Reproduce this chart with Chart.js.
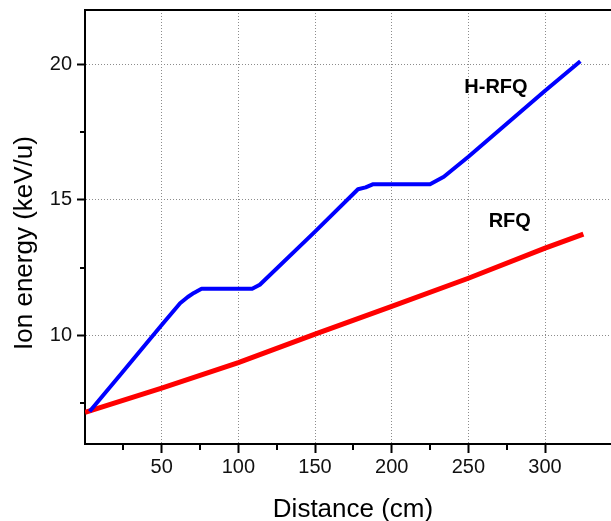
<!DOCTYPE html>
<html>
<head>
<meta charset="utf-8">
<title>Ion energy vs distance</title>
<script src="https://cdn.jsdelivr.net/npm/chart.js@4/dist/chart.umd.min.js"></script>
<style>
  html, body { margin: 0; padding: 0; background: #fff; }
  #wrap { width: 611px; height: 521px; position: relative; }
</style>
</head>
<body>
<div id="wrap"><canvas id="energy"></canvas></div>
<script>
// H-RFQ: accelerating sections with two drift plateaus
const hrfqDistance = [3, 24, 50, 62, 67, 71, 76, 109, 114, 150, 178, 183, 188, 225, 234, 250, 300, 323];
const hrfqEnergy = [7.2, 8.62, 10.39, 11.19, 11.42, 11.57, 11.72, 11.72, 11.87, 13.83, 15.39, 15.46, 15.58, 15.58, 15.85, 16.59, 19.02, 20.11];

// conventional RFQ
const rfqDistance = [0, 50, 100, 150, 200, 250, 300, 325];
const rfqEnergy = [7.17, 8.06, 9.0, 10.05, 11.07, 12.11, 13.22, 13.74];

const xMajor = [50, 100, 150, 200, 250, 300];
const yMajor = [10, 15, 20];

const seriesLabels = [
  { text: 'H-RFQ', x: 268, y: 19.13 },
  { text: 'RFQ', x: 277, y: 14.22 }
];

const FONT = '"Liberation Sans", Arial, sans-serif';
const GRID_GREY = '#8c8c8c';

function toPoints(xs, ys) {
  return xs.map((x, i) => ({ x: x, y: ys[i] }));
}

// keep only ticks on a regular step (drops the explicit min/max ticks)
function stepTicks(step) {
  return (axis) => {
    axis.ticks = axis.ticks.filter(t => Math.abs(t.value / step - Math.round(t.value / step)) < 1e-6);
  };
}

// fixed axis box sizes; no extra room reserved for edge labels
function fixSize(prop, size) {
  return (axis) => {
    axis[prop] = size;
    axis.paddingTop = 0;
    axis.paddingBottom = 0;
    axis.paddingLeft = 0;
    axis.paddingRight = 0;
  };
}

const extras = {
  id: 'extras',
  afterDraw(chart) {
    const { ctx, chartArea, scales } = chart;
    const xs = scales.x, ys = scales.y;
    ctx.save();

    // short minor ticks between the labelled ones
    ctx.strokeStyle = '#000';
    ctx.lineWidth = 2;
    ctx.beginPath();
    for (const t of xs.ticks) {
      if (t.value % 50 === 0) continue;
      const px = Math.round(xs.getPixelForValue(t.value));
      ctx.moveTo(px, chartArea.bottom);
      ctx.lineTo(px, chartArea.bottom + 6);
    }
    for (const t of ys.ticks) {
      if (t.value % 5 === 0) continue;
      const py = Math.round(ys.getPixelForValue(t.value));
      ctx.moveTo(chartArea.left, py);
      ctx.lineTo(chartArea.left - 5, py);
    }
    ctx.stroke();

    // axis titles
    ctx.fillStyle = '#000';
    ctx.font = '26px ' + FONT;
    ctx.textAlign = 'center';
    ctx.textBaseline = 'alphabetic';
    ctx.fillText('Distance (cm)', (chartArea.left + chartArea.right) / 2 + 5, 517);

    ctx.save();
    ctx.translate(32, (chartArea.top + chartArea.bottom) / 2 + 16);
    ctx.rotate(-Math.PI / 2);
    ctx.fillText('Ion energy (keV/u)', 0, 0);
    ctx.restore();

    // series names beside the curves
    ctx.font = 'bold 20px ' + FONT;
    ctx.textBaseline = 'middle';
    for (const lab of seriesLabels) {
      ctx.fillText(lab.text, xs.getPixelForValue(lab.x), ys.getPixelForValue(lab.y));
    }
    ctx.restore();
  }
};

new Chart(document.getElementById('energy'), {
  type: 'line',
  data: {
    datasets: [{
      label: 'H-RFQ',
      data: toPoints(hrfqDistance, hrfqEnergy),
      borderColor: '#0000ff',
      borderWidth: 4,
      pointRadius: 0,
      tension: 0,
      borderJoinStyle: 'round'
    }, {
      label: 'RFQ',
      data: toPoints(rfqDistance, rfqEnergy),
      borderColor: '#ff0000',
      borderWidth: 5,
      pointRadius: 0,
      tension: 0
    }]
  },
  options: {
    responsive: true,
    maintainAspectRatio: false,
    animation: false,
    layout: { padding: 0 },
    plugins: { legend: { display: false }, tooltip: { enabled: false } },
    scales: {
      x: {
        type: 'linear',
        position: 'bottom',
        min: 0,
        max: 343,
        afterBuildTicks: stepTicks(25),
        afterFit: fixSize('height', 77),
        ticks: {
          stepSize: 25,
          padding: 2,
          color: '#111',
          font: { family: FONT, size: 20 },
          callback: (v) => xMajor.includes(v) ? String(v) : ''
        },
        grid: {
          color: (c) => c.tick && xMajor.includes(c.tick.value) ? GRID_GREY : 'transparent',
          lineWidth: 1,
          tickLength: 9,
          tickWidth: 2,
          tickColor: (c) => c.tick && xMajor.includes(c.tick.value) ? '#000' : 'transparent'
        },
        border: { display: true, color: '#000', width: 2, dash: [1, 2] }
      },
      top: {
        type: 'linear',
        position: 'top',
        min: 0,
        max: 343,
        afterFit: fixSize('height', 10),
        ticks: { display: false },
        grid: { display: false, drawTicks: false },
        border: { display: true, color: '#000', width: 2 }
      },
      y: {
        type: 'linear',
        position: 'left',
        min: 6,
        max: 22,
        afterBuildTicks: stepTicks(2.5),
        afterFit: fixSize('width', 85),
        ticks: {
          stepSize: 2.5,
          padding: 5,
          color: '#111',
          font: { family: FONT, size: 20 },
          callback: (v) => yMajor.includes(v) ? String(v) : ''
        },
        grid: {
          color: (c) => c.tick && yMajor.includes(c.tick.value) ? GRID_GREY : 'transparent',
          lineWidth: 1,
          tickLength: 8,
          tickWidth: 2,
          tickColor: (c) => c.tick && yMajor.includes(c.tick.value) ? '#000' : 'transparent'
        },
        border: { display: true, color: '#000', width: 2, dash: [1, 2] }
      }
    }
  },
  plugins: [extras]
});
</script>
</body>
</html>
